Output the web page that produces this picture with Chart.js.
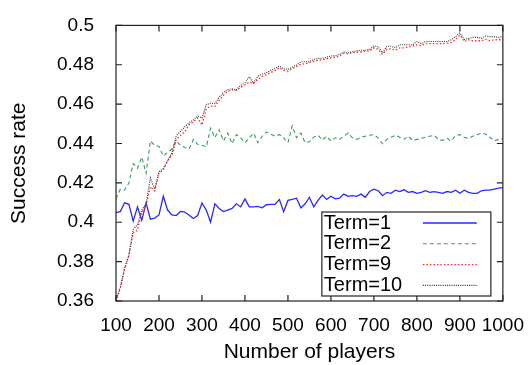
<!DOCTYPE html>
<html>
<head>
<meta charset="utf-8">
<script src="https://cdn.jsdelivr.net/npm/chart.js@4/dist/chart.umd.min.js"></script>
<style>
  body { margin: 0; background: #fff; }
  #wrap { width: 529px; height: 365px; }
</style>
</head>
<body>
<div id="wrap"><canvas id="grafico" width="529" height="365"></canvas></div>
<script>
// Datos
const jugadores = [
  100, 110, 120, 130, 140, 150, 160, 170, 180, 190,
  200, 210, 220, 230, 240, 250, 260, 270, 280, 290,
  300, 310, 320, 330, 340, 350, 360, 370, 380, 390,
  400, 410, 420, 430, 440, 450, 460, 470, 480, 490,
  500, 510, 520, 530, 540, 550, 560, 570, 580, 590,
  600, 610, 620, 630, 640, 650, 660, 670, 680, 690,
  700, 710, 720, 730, 740, 750, 760, 770, 780, 790,
  800, 810, 820, 830, 840, 850, 860, 870, 880, 890,
  900, 910, 920, 930, 940, 950, 960, 970, 980, 990,
  1000
];

const term1 = [
  .4049, .4054, .4099, .4091, .4006, .4078, .4010, .4098, .4016, .4021,
  .4037, .4132, .4062, .4037, .4034, .4055, .4052, .4036, .4019, .4034,
  .4098, .4062, .4000, .4094, .4070, .4054, .4062, .4070, .4094, .4078,
  .4119, .4078, .4078, .4081, .4073, .4089, .4091, .4091, .4116, .4054,
  .4111, .4116, .4122, .4073, .4094, .4127, .4078, .4111, .4138, .4116,
  .4132, .4119, .4122, .4143, .4132, .4135, .4132, .4143, .4127, .4156,
  .4168, .4160, .4135, .4152, .4147, .4163, .4156, .4165, .4152, .4156,
  .4147, .4152, .4160, .4152, .4156, .4152, .4147, .4156, .4152, .4163,
  .4147, .4163, .4152, .4147, .4147, .4160, .4163, .4163, .4168, .4173,
  .4176
];

const term2 = [
  .4119, .4168, .4163, .4200, .4298, .4274, .4331, .4249, .4413, .4391,
  .4385, .4336, .4355, .4372, .4413, .4391, .4380, .4372, .4421, .4396,
  .4391, .4383, .4478, .4430, .4470, .4413, .4453, .4399, .4445, .4429,
  .4404, .4429, .4453, .4404, .4437, .4458, .4448, .4437, .4445, .4429,
  .4404, .4490, .4429, .4453, .4404, .4409, .4432, .4442, .4417, .4437,
  .4413, .4429, .4421, .4437, .4453, .4429, .4421, .4432, .4437, .4442,
  .4445, .4429, .4399, .4421, .4432, .4442, .4432, .4421, .4437, .4416,
  .4421, .4426, .4432, .4437, .4442, .4421, .4416, .4426, .4413, .4442,
  .4445, .4432, .4426, .4437, .4445, .4453, .4448, .4432, .4413, .4421,
  .4426
];

const term9 = [
  .3600, .3665, .3760, .3830, .3945, .3960, .4050, .4085, .4180, .4160,
  .4250, .4265, .4310, .4340, .4420, .4440, .4460, .4495, .4510, .4530,
  .4494, .4575, .4590, .4588, .4620, .4645, .4665, .4672, .4670, .4685,
  .4698, .4712, .4706, .4725, .4740, .4750, .4760, .4772, .4785, .4772,
  .4768, .4780, .4790, .4802, .4805, .4810, .4818, .4822, .4825, .4830,
  .4835, .4838, .4845, .4858, .4855, .4861, .4865, .4865, .4869, .4869,
  .4886, .4878, .4853, .4878, .4881, .4874, .4886, .4886, .4891, .4894,
  .4902, .4897, .4907, .4907, .4907, .4907, .4907, .4910, .4913, .4927,
  .4951, .4918, .4927, .4922, .4922, .4922, .4929, .4922, .4927, .4927,
  .4927
];

const term10 = [
  .3605, .3670, .3768, .3833, .3964, .3988, .4062, .4094, .4225, .4168,
  .4257, .4274, .4315, .4350, .4440, .4461, .4485, .4505, .4520, .4540,
  .4530, .4597, .4605, .4603, .4635, .4660, .4673, .4678, .4673, .4695,
  .4708, .4739, .4706, .4742, .4752, .4760, .4771, .4783, .4793, .4780,
  .4777, .4788, .4799, .4815, .4815, .4815, .4828, .4832, .4833, .4838,
  .4845, .4845, .4853, .4865, .4861, .4866, .4871, .4874, .4874, .4878,
  .4897, .4891, .4861, .4894, .4894, .4886, .4902, .4902, .4902, .4902,
  .4918, .4907, .4918, .4918, .4918, .4918, .4918, .4918, .4927, .4943,
  .4962, .4929, .4934, .4939, .4939, .4934, .4946, .4943, .4943, .4939,
  .4943
];

const etiquetasSerie = ['Term=1', 'Term=2', 'Term=9', 'Term=10'];
const tituloX = 'Number of players';
const tituloY = 'Success rate';

const fuente = '"Liberation Sans", Arial, Helvetica, sans-serif';

function puntos(valores) {
  return valores.map((v, i) => ({ x: jugadores[i], y: v }));
}

// Marco estilo gnuplot con marcas hacia dentro
const marcoPlugin = {
  id: 'marco',
  afterDraw(chart) {
    const ctx = chart.ctx;
    const a = chart.chartArea;
    const sx = chart.scales.x;
    const sy = chart.scales.y;
    const largo = 6;
    ctx.save();
    ctx.strokeStyle = '#222';
    ctx.lineWidth = 1.2;
    ctx.strokeRect(a.left, a.top, a.right - a.left, a.bottom - a.top);
    ctx.beginPath();
    sx.ticks.forEach(t => {
      const px = sx.getPixelForValue(t.value);
      ctx.moveTo(px, a.bottom); ctx.lineTo(px, a.bottom - largo);
      ctx.moveTo(px, a.top); ctx.lineTo(px, a.top + largo);
    });
    sy.ticks.forEach(t => {
      const py = sy.getPixelForValue(t.value);
      ctx.moveTo(a.left, py); ctx.lineTo(a.left + largo, py);
      ctx.moveTo(a.right, py); ctx.lineTo(a.right - largo, py);
    });
    ctx.stroke();

    // Leyenda
    const caja = { left: a.right - 181, top: a.bottom - 89, right: a.right - 12, bottom: a.bottom - 5 };
    ctx.fillStyle = '#fff';
    ctx.fillRect(caja.left, caja.top, caja.right - caja.left, caja.bottom - caja.top);
    ctx.strokeStyle = '#222';
    ctx.lineWidth = 1.2;
    ctx.strokeRect(caja.left, caja.top, caja.right - caja.left, caja.bottom - caja.top);
    ctx.font = '20px ' + fuente;
    ctx.textBaseline = 'middle';
    ctx.textAlign = 'left';
    chart.data.datasets.forEach((ds, i) => {
      const y = caja.top + 11 + i * 20.8;
      ctx.fillStyle = '#000';
      ctx.fillText(ds.label, caja.left + 2, y);
      ctx.beginPath();
      ctx.setLineDash(ds.borderDash || []);
      ctx.strokeStyle = ds.borderColor;
      ctx.lineWidth = ds.borderWidth;
      ctx.moveTo(caja.left + 101, y);
      ctx.lineTo(caja.left + 155, y);
      ctx.stroke();
    });
    ctx.setLineDash([]);
    ctx.restore();
  }
};

const ctx = document.getElementById('grafico').getContext('2d');
window.grafico = new Chart(ctx, {
  type: 'line',
  data: {
    datasets: [
      { label: etiquetasSerie[0], data: puntos(term1), borderColor: '#2828ff', borderWidth: 1.3, order: 4 },
      { label: etiquetasSerie[1], data: puntos(term2), borderColor: '#3a9a5c', borderWidth: 1.1, borderDash: [4, 3], order: 3 },
      { label: etiquetasSerie[2], data: puntos(term9), borderColor: '#ff2a2a', borderWidth: 1.3, borderDash: [1.5, 2], order: 2 },
      { label: etiquetasSerie[3], data: puntos(term10), borderColor: '#333333', borderWidth: 1.1, borderDash: [1, 1.2], order: 1 }
    ]
  },
  options: {
    responsive: false,
    animation: false,
    devicePixelRatio: 1,
    elements: { point: { radius: 0 }, line: { tension: 0, fill: false } },
    layout: { padding: { left: 0, top: 15, right: 26, bottom: 0 } },
    plugins: { legend: { display: false }, tooltip: { enabled: false } },
    scales: {
      x: {
        type: 'linear',
        min: 100,
        max: 1000,
        grid: { display: false },
        border: { display: false },
        ticks: {
          stepSize: 100,
          color: '#000',
          padding: 5,
          maxRotation: 0,
          autoSkip: false,
          font: { family: fuente, size: 19 },
          callback: v => String(v)
        },
        title: { display: true, text: tituloX, color: '#000', padding: { top: 0, bottom: 0 }, font: { family: fuente, size: 21 } },
        afterFit: s => { s.height = 64; }
      },
      y: {
        min: 0.36,
        max: 0.5,
        grid: { display: false },
        border: { display: false },
        ticks: {
          stepSize: 0.02,
          color: '#000',
          padding: 14,
          font: { family: fuente, size: 19 },
          callback: v => String(Math.round(v * 100) / 100)
        },
        title: { display: true, text: tituloY, color: '#000', padding: { top: 7, bottom: 0 }, font: { family: fuente, size: 21 } },
        afterFit: s => { s.width = 116; }
      }
    }
  },
  plugins: [marcoPlugin]
});
</script>
</body>
</html>
